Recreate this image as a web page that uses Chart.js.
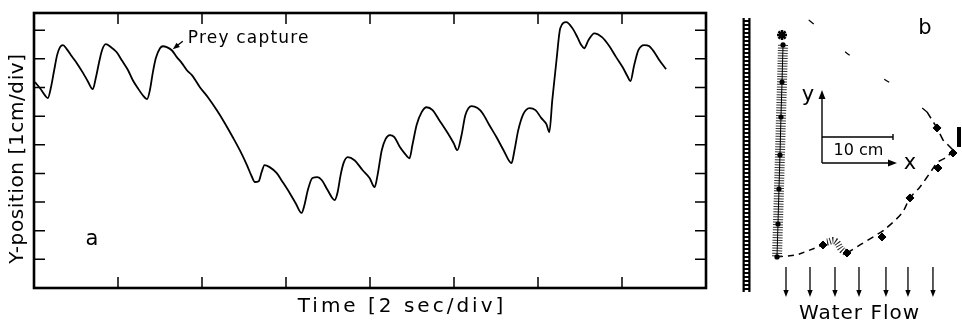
<!DOCTYPE html>
<html>
<head>
<meta charset="utf-8">
<script src="https://cdn.jsdelivr.net/npm/chart.js@4.4.1/dist/chart.umd.min.js"></script>
<style>
  html, body { margin: 0; padding: 0; background: #fff; }
  #wrap { position: relative; width: 962px; height: 324px; }
  #boxA { position: absolute; left: 0; top: 0; width: 740px; height: 324px; }
  #boxB { position: absolute; left: 740px; top: 0; width: 222px; height: 324px; }
</style>
</head>
<body>
<div id="wrap">
  <div id="boxA"><canvas id="chartA"></canvas></div>
  <div id="boxB"><canvas id="chartB"></canvas></div>
</div>
<script>
// panel a: y-position of the fish over time (x in seconds, y in cm)
const timeSec = [0.02, 0.14, 0.24, 0.33, 0.40, 0.48, 0.55, 0.62, 0.69, 0.78, 0.90, 1.02, 1.17, 1.28, 1.40,
  1.47, 1.55, 1.62, 1.71, 1.83, 1.97, 2.09, 2.24, 2.35, 2.47, 2.59, 2.69, 2.76, 2.83, 2.90, 3.00, 3.07,
  3.16, 3.28, 3.40, 3.52, 3.64, 3.76, 3.95, 4.14, 4.35, 4.54, 4.73, 4.90, 5.07, 5.18, 5.26, 5.35, 5.42,
  5.49, 5.61, 5.78, 5.92, 6.09, 6.23, 6.37, 6.44, 6.52, 6.63, 6.75, 6.85, 6.99, 7.16, 7.23, 7.30, 7.37,
  7.47, 7.63, 7.82, 7.99, 8.11, 8.18, 8.28, 8.37, 8.47, 8.58, 8.70, 8.82, 8.94, 9.01, 9.11, 9.23, 9.35,
  9.49, 9.65, 9.85, 9.99, 10.08, 10.18, 10.27, 10.42, 10.56, 10.68, 10.84, 11.01, 11.18, 11.37, 11.44,
  11.53, 11.65, 11.80, 11.94, 12.08, 12.20, 12.27, 12.34, 12.44, 12.53, 12.67, 12.82, 12.94, 13.03,
  13.10, 13.20, 13.34, 13.53, 13.70, 13.86, 14.03, 14.13, 14.20, 14.29, 14.39, 14.53, 14.65, 14.77,
  14.89, 15.05];
const posCm = [7.19, 6.98, 6.77, 6.63, 6.98, 7.60, 8.13, 8.41, 8.48, 8.34, 8.09, 7.85, 7.50, 7.22, 6.94,
  7.32, 7.88, 8.30, 8.51, 8.41, 8.23, 7.95, 7.60, 7.26, 6.98, 6.73, 6.59, 6.91, 7.53, 8.02, 8.37, 8.44,
  8.41, 8.30, 8.06, 7.85, 7.60, 7.43, 7.01, 6.66, 6.21, 5.76, 5.27, 4.81, 4.29, 3.91, 3.70, 3.73, 4.05,
  4.29, 4.22, 4.01, 3.70, 3.31, 2.96, 2.62, 2.90, 3.42, 3.84, 3.87, 3.77, 3.42, 3.07, 3.35, 3.94, 4.36,
  4.57, 4.46, 4.12, 3.84, 3.52, 3.94, 4.81, 5.20, 5.34, 5.27, 4.95, 4.71, 4.53, 4.99, 5.69, 6.14, 6.31,
  6.21, 5.86, 5.41, 5.06, 4.81, 5.34, 6.03, 6.35, 6.28, 6.10, 5.69, 5.27, 4.81, 4.36, 4.81,
  5.51, 6.07, 6.28, 6.21, 5.93, 5.72, 5.44, 6.56, 7.95, 9.07, 9.28, 9.07, 8.75, 8.48,
  8.37, 8.65, 8.89, 8.75, 8.44, 8.06, 7.67, 7.39, 7.22, 7.78, 8.30, 8.48, 8.44, 8.23,
  7.95, 7.64];
const timeTicks = [2, 4, 6, 8, 10, 12, 14];
const posTicks = [1, 2, 3, 4, 5, 6, 7, 8, 9];
const preyCapture = { x: 3.28, y: 8.30 };

// panel b: top view of the tank, in cm
const wallX = [0.92, 0.92];
const wallY = [4.51, 43.10];
const fishPathX = [6.06, 5.92, 5.77, 5.63, 5.49, 5.35, 5.21];
const fishPathY = [39.30, 34.08, 29.15, 23.80, 19.01, 14.08, 9.44];
const startX = [5.92];
const startY = [40.70];
const swimX = [5.21, 8.03, 11.69];
const swimY = [9.44, 9.72, 11.13];
const turnX = [12.25, 13.38, 14.37, 15.07];
const turnY = [11.55, 11.69, 10.42, 10.00];
const driftX = [15.07, 16.90, 18.73, 20.28, 22.82, 23.94, 25.35, 27.04, 27.89, 29.15, 30.00];
const driftY = [10.00, 11.13, 12.25, 13.24, 15.63, 17.75, 19.30, 21.69, 22.82, 23.52, 24.51];
const returnX = [30.00, 28.59, 27.75, 26.34];
const returnY = [24.51, 25.92, 27.61, 29.86];
const arcX = [26.34, 22.39, 18.31, 14.51, 9.86, 8.03];
const arcY = [29.86, 33.10, 35.77, 38.59, 42.68, 43.94];
const blobX = [11.69, 15.07, 20.00, 23.94, 27.89, 30.00, 27.75];
const blobY = [11.13, 10.00, 12.25, 17.75, 21.97, 24.08, 27.61];
const headX = [30.85];
const headY = [26.34];
const flowX = [6.48, 9.86, 13.38, 16.76, 20.56, 23.66, 27.18];
const flowTop = 8.03;
const flowBottom = 3.80;
const origin = { x: 11.55, y: 22.68 };
const axisLen = { x: 10.56, y: 10.28 };
const scaleBar = { y: 26.34, len: 10 };

function pares(xs, ys) {
  return xs.map(function (v, i) { return { x: v, y: ys[i] }; });
}

function seta(ctx, x1, y1, x2, y2, tam) {
  const ang = Math.atan2(y2 - y1, x2 - x1);
  ctx.beginPath();
  ctx.moveTo(x1, y1);
  ctx.lineTo(x2 - Math.cos(ang) * tam * 0.6, y2 - Math.sin(ang) * tam * 0.6);
  ctx.stroke();
  ctx.beginPath();
  ctx.moveTo(x2, y2);
  ctx.lineTo(x2 - tam * Math.cos(ang) + tam * 0.38 * Math.sin(ang), y2 - tam * Math.sin(ang) - tam * 0.38 * Math.cos(ang));
  ctx.lineTo(x2 - tam * Math.cos(ang) - tam * 0.38 * Math.sin(ang), y2 - tam * Math.sin(ang) + tam * 0.38 * Math.cos(ang));
  ctx.closePath();
  ctx.fill();
}

const FONT = '"DejaVu Sans", sans-serif';

const molduraA = {
  id: 'molduraA',
  afterDatasetsDraw(chart) {
    const { ctx, chartArea: a } = chart;
    const x = chart.scales.x;
    const y = chart.scales.y;
    ctx.save();
    ctx.strokeStyle = '#000';
    ctx.fillStyle = '#000';
    ctx.lineWidth = 1.5;
    ctx.beginPath();
    timeTicks.forEach(function (t) {
      const px = x.getPixelForValue(t);
      ctx.moveTo(px, a.bottom); ctx.lineTo(px, a.bottom - 11);
      ctx.moveTo(px, a.top); ctx.lineTo(px, a.top + 11);
    });
    posTicks.forEach(function (v) {
      const py = y.getPixelForValue(v);
      ctx.moveTo(a.left, py); ctx.lineTo(a.left + 11, py);
      ctx.moveTo(a.right, py); ctx.lineTo(a.right - 11, py);
    });
    ctx.stroke();
    ctx.lineWidth = 2.6;
    ctx.strokeRect(a.left, a.top, a.right - a.left, a.bottom - a.top);

    // prey capture arrow
    const px = x.getPixelForValue(preyCapture.x);
    const py = y.getPixelForValue(preyCapture.y);
    ctx.lineWidth = 1.3;
    seta(ctx, px + 11, py - 9, px + 1, py - 1, 7);
    ctx.textBaseline = 'middle';
    ctx.textAlign = 'left';
    ctx.font = '17px ' + FONT;
    ctx.letterSpacing = '1.2px';
    ctx.fillText('Prey capture', px + 16, py - 12);

    ctx.font = '21px ' + FONT;
    ctx.letterSpacing = '0px';
    ctx.textAlign = 'center';
    ctx.fillText('a', x.getPixelForValue(1.38), y.getPixelForValue(1.7));

    ctx.font = '20px ' + FONT;
    ctx.letterSpacing = '3px';
    ctx.fillText('Time [2 sec/div]', (a.left + a.right) / 2 + 32, a.bottom + 19);

    ctx.save();
    ctx.translate(a.left - 16, (a.top + a.bottom) / 2 + 8);
    ctx.rotate(-Math.PI / 2);
    ctx.letterSpacing = '0.6px';
    ctx.fillText('Y-position [1cm/div]', 0, 0);
    ctx.restore();
    ctx.restore();
  }
};

const desenhoB = {
  id: 'desenhoB',
  afterDatasetsDraw(chart) {
    const ctx = chart.ctx;
    const x = chart.scales.x;
    const y = chart.scales.y;
    ctx.save();
    ctx.strokeStyle = '#000';
    ctx.fillStyle = '#000';
    ctx.lineWidth = 1.3;
    flowX.forEach(function (fx) {
      const px = x.getPixelForValue(fx);
      seta(ctx, px, y.getPixelForValue(flowTop), px, y.getPixelForValue(flowBottom), 7);
    });

    const ox = x.getPixelForValue(origin.x);
    const oy = y.getPixelForValue(origin.y);
    ctx.lineWidth = 1.4;
    seta(ctx, ox, oy, ox, y.getPixelForValue(origin.y + axisLen.y), 9);
    seta(ctx, ox, oy, x.getPixelForValue(origin.x + axisLen.x), oy, 9);
    const sy = y.getPixelForValue(scaleBar.y);
    const sx = x.getPixelForValue(origin.x + scaleBar.len);
    ctx.beginPath();
    ctx.moveTo(ox, sy); ctx.lineTo(sx, sy);
    ctx.moveTo(sx, sy - 3); ctx.lineTo(sx, sy + 3);
    ctx.stroke();

    ctx.textAlign = 'center';
    ctx.textBaseline = 'middle';
    ctx.font = '16px ' + FONT;
    ctx.fillText('10 cm', (ox + sx) / 2 + 1, (sy + oy) / 2 + 1);
    ctx.font = '21px ' + FONT;
    ctx.fillText('y', ox - 14, y.getPixelForValue(origin.y + axisLen.y) + 6);
    ctx.fillText('x', x.getPixelForValue(origin.x + axisLen.x) + 13, oy + 1);
    ctx.fillText('b', x.getPixelForValue(26.06), y.getPixelForValue(41.6));
    ctx.font = '20px ' + FONT;
    ctx.letterSpacing = '1px';
    ctx.fillText('Water Flow', x.getPixelForValue((flowX[0] + flowX[flowX.length - 1]) / 2), y.getPixelForValue(1.45));
    ctx.restore();
  }
};

const graficoA = new Chart(document.getElementById('chartA'), {
  type: 'scatter',
  data: {
    datasets: [{
      data: pares(timeSec, posCm),
      showLine: true,
      borderColor: '#000',
      borderWidth: 1.8,
      pointRadius: 0,
      cubicInterpolationMode: 'monotone'
    }]
  },
  options: {
    responsive: true,
    maintainAspectRatio: false,
    animation: false,
    layout: { autoPadding: false, padding: { left: 34, right: 34, top: 13, bottom: 36 } },
    plugins: { legend: { display: false }, tooltip: { enabled: false } },
    scales: {
      x: { type: 'linear', min: 0, max: 16, display: false },
      y: { type: 'linear', min: 0, max: 9.6, display: false }
    }
  },
  plugins: [molduraA]
});

// datasets are painted from the last one to the first, so overlays come first
const graficoB = new Chart(document.getElementById('chartB'), {
  type: 'scatter',
  data: {
    datasets: [
      { data: pares(wallX, wallY), showLine: true, borderColor: '#fff', borderWidth: 3.5, borderDash: [2, 2], pointRadius: 0 },
      { data: pares(wallX, wallY), showLine: true, borderColor: '#000', borderWidth: 8, pointRadius: 0 },
      { data: pares(headX, headY), pointStyle: 'line', rotation: 90, pointRadius: 10, borderColor: '#000', borderWidth: 4 },
      { data: pares(blobX, blobY), pointStyle: 'rectRot', pointRadius: 4, backgroundColor: '#000', borderColor: '#000', borderWidth: 1 },
      { data: pares(startX, startY), pointStyle: 'star', pointRadius: 5, borderColor: '#000', borderWidth: 2.5 },
      { data: pares(fishPathX, fishPathY), showLine: true, borderColor: '#000', borderWidth: 1, pointRadius: 2.6, pointBackgroundColor: '#000', pointBorderWidth: 0 },
      { data: pares(fishPathX, fishPathY), showLine: true, borderColor: '#333', borderWidth: 10, borderDash: [1, 1.6], pointRadius: 0 },
      { data: pares(swimX, swimY), showLine: true, borderColor: '#000', borderWidth: 1.5, borderDash: [6, 5], pointRadius: 0 },
      { data: pares(turnX, turnY), showLine: true, borderColor: '#222', borderWidth: 7, borderDash: [1, 1.8], pointRadius: 0, tension: 0.4 },
      { data: pares(driftX, driftY), showLine: true, borderColor: '#000', borderWidth: 1.5, borderDash: [7, 5], pointRadius: 0, tension: 0.3 },
      { data: pares(returnX, returnY), showLine: true, borderColor: '#000', borderWidth: 1.5, borderDash: [8, 5], pointRadius: 0 },
      { data: pares(arcX, arcY), showLine: true, borderColor: '#000', borderWidth: 1.2, borderDash: [6, 42], pointRadius: 0, tension: 0.4 }
    ]
  },
  options: {
    responsive: true,
    maintainAspectRatio: false,
    animation: false,
    layout: { autoPadding: false, padding: 0 },
    plugins: { legend: { display: false }, tooltip: { enabled: false } },
    scales: {
      x: { type: 'linear', min: 0, max: 31.27, display: false },
      y: { type: 'linear', min: 0, max: 45.63, display: false }
    }
  },
  plugins: [desenhoB]
});
</script>
</body>
</html>
